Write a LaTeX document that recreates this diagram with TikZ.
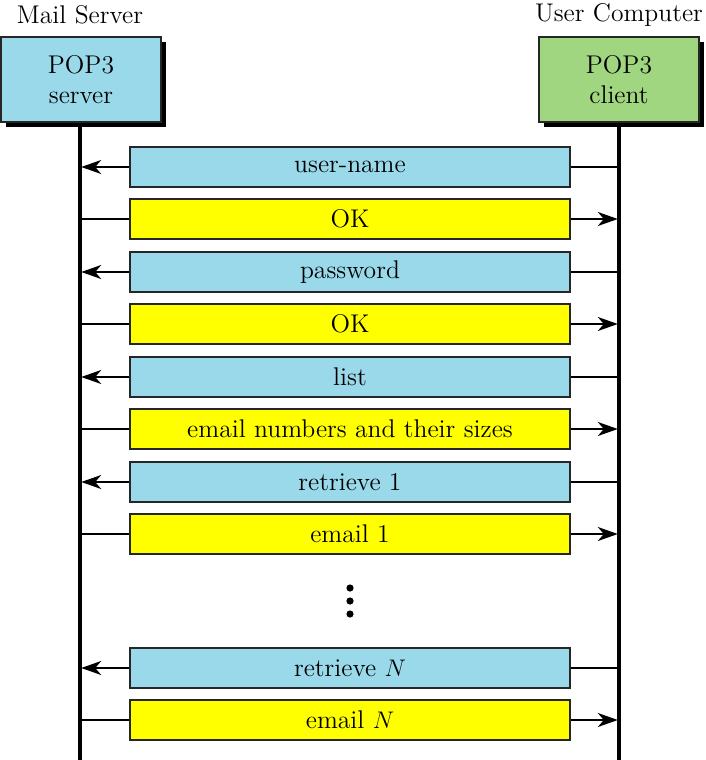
\documentclass[tikz,border=0pt]{standalone}
\usepackage{tikz}
\usetikzlibrary{arrows.meta,shadows}
\definecolor{msgblue}{RGB}{154,217,234}
\definecolor{hostgreen}{RGB}{160,214,128}
\definecolor{msgyellow}{RGB}{255,255,0}

\begin{document}
\begin{tikzpicture}[x=0.5pt,y=-0.5pt,font=\fontsize{12.8}{15}\selectfont,
    hostbox/.style={draw=black!85,line width=0.6pt,minimum width=80pt,minimum height=42.5pt,
      align=center,inner sep=0pt,
      drop shadow={shadow xshift=2.5pt,shadow yshift=-2.5pt,fill=black,opacity=1}},
    msgbox/.style={draw=black!85,line width=0.6pt,minimum width=220pt,minimum height=20pt,inner sep=0pt},
    lifeline/.style={line width=1.7pt},
    wire/.style={line width=0.9pt},
    tip/.style={wire,-{Stealth[length=10pt,width=7pt,inset=3pt]},shorten >=0.6pt}]
    \useasboundingbox (0,0) rectangle (706,760);
    % the two hosts
    \node (srvlbl) at (80,15) {Mail Server};
    \node (cltlbl) at (619,15) {User Computer};
    \node[hostbox,fill=msgblue] (srv) at (81,79.5) {POP3\\server};
    \node[hostbox,fill=hostgreen] (clt) at (619,79.5) {POP3\\client};
    \coordinate (srvend) at (80,762);
    \coordinate (cltend) at (619,762);
    \draw[lifeline] (srv.south -| srvend) -- (srvend);
    \draw[lifeline] (clt.south) -- (cltend);
    % client -> server requests
    \foreach \i/\y/\txt in {1/167/user-name,2/272/password,3/377/list,4/482/retrieve 1,5/668/retrieve $N$}{
      \node[msgbox,fill=msgblue] (req\i) at (350,\y) {\txt};
      \draw[wire] (req\i.east) -- (req\i.east -| cltend);
      \draw[tip] (req\i.west) -- (req\i.west -| srvend);
    }
    % server -> client replies
    \foreach \i/\y/\txt in {1/219/OK,2/324/OK,3/429/email numbers and their sizes,4/534/email 1,5/720/email $N$}{
      \node[msgbox,fill=msgyellow] (rep\i) at (350,\y) {\txt};
      \draw[wire] (rep\i.west -| srvend) -- (rep\i.west);
      \draw[tip] (rep\i.east) -- (rep\i.east -| cltend);
    }
    % vertical dots
    \foreach \y in {588,601,614}
      \fill (350,\y) circle (1.8pt);
\end{tikzpicture}
\end{document}
